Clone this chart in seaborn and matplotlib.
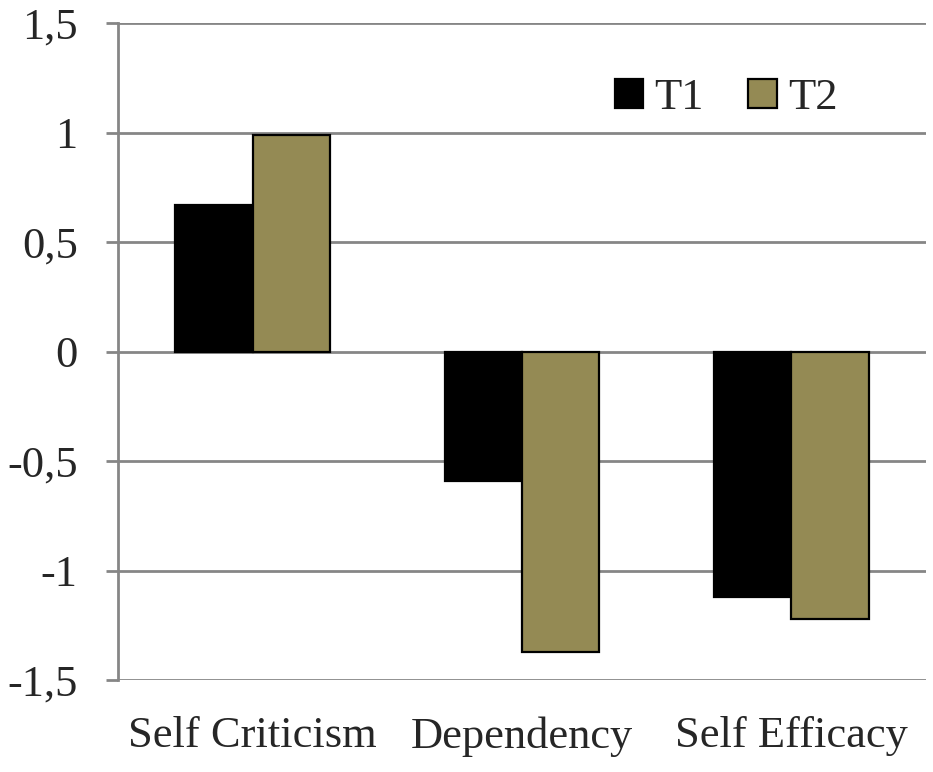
import pandas as pd
import seaborn as sns
import matplotlib.pyplot as plt
from matplotlib.patches import Patch

# values
categories = ['Self Criticism', 'Dependency', 'Self Efficacy']
t1_values = [0.67, -0.59, -1.12]
t2_values = [0.99, -1.37, -1.22]
series = ['T1', 'T2']
y_ticks = [-1.5, -1, -0.5, 0, 0.5, 1, 1.5]
y_tick_labels = ['-1,5', '-1', '-0,5', '0', '0,5', '1', '1,5']

colors = {'T1': '#000000', 'T2': '#948A54'}

df = pd.DataFrame({
    'category': categories * 2,
    'time': ['T1'] * 3 + ['T2'] * 3,
    'value': t1_values + t2_values,
})

sns.set_style('white')
plt.rcParams['font.family'] = ['Liberation Serif', 'DejaVu Serif']

fig = plt.figure(figsize=(9.33, 7.72), dpi=100)
ax = fig.add_axes([0.1265, 0.119, 0.866, 0.851])

sns.barplot(data=df, x='category', y='value', hue='time', order=categories,
            hue_order=series, palette=colors, width=0.575, saturation=1,
            edgecolor='black', linewidth=1.6, legend=False, ax=ax, zorder=3)

ax.set_ylim(-1.5, 1.5)
ax.set_yticks(y_ticks)
ax.set_yticklabels(y_tick_labels)
ax.yaxis.grid(True, color='#868686', linewidth=2)
ax.set_axisbelow(True)
ax.set_xlabel('')
ax.set_ylabel('')

for side in ['top', 'right', 'bottom']:
    ax.spines[side].set_visible(False)
ax.spines['left'].set_color('#868686')
ax.spines['left'].set_linewidth(2)

ax.tick_params(axis='y', which='both', length=9, width=2, color='#868686',
               pad=20, labelsize=32, left=True)
ax.tick_params(axis='x', length=0, pad=26, labelsize=32)

handles = [Patch(facecolor=colors[s], edgecolor='black', linewidth=1.6, label=s)
           for s in series]
ax.legend(handles=handles, loc='upper right', bbox_to_anchor=(0.94, 0.977),
          ncol=2, frameon=False, fontsize=32, handlelength=0.64, handleheight=0.64,
          handletextpad=0.25, columnspacing=1.0)

fig.savefig('out.png', dpi=100)
